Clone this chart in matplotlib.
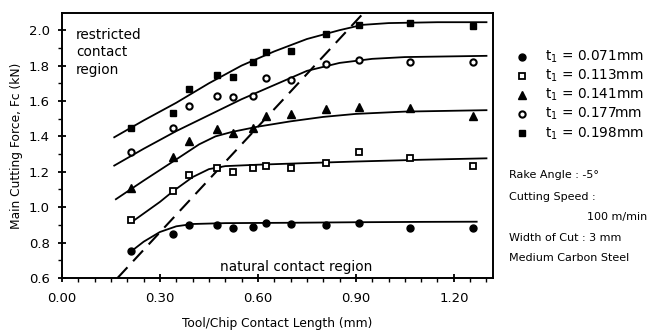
import matplotlib
matplotlib.use("Agg")
import matplotlib.pyplot as plt
from matplotlib.lines import Line2D
from matplotlib.ticker import MultipleLocator, FormatStrFormatter

plt.rcParams['font.family'] = ['DejaVu Sans']

# ---- data ----
contact_len = [0.21, 0.34, 0.39, 0.475, 0.525, 0.585, 0.625, 0.70, 0.81, 0.91, 1.065, 1.26]

labels = ["t$_1$ = 0.071mm", "t$_1$ = 0.113mm", "t$_1$ = 0.141mm",
          "t$_1$ = 0.177mm", "t$_1$ = 0.198mm"]

force_071 = [0.75, 0.85, 0.90, 0.90, 0.88, 0.89, 0.91, 0.905, 0.90, 0.91, 0.88, 0.88]
force_113 = [0.93, 1.09, 1.18, 1.22, 1.20, 1.22, 1.23, 1.22, 1.25, 1.31, 1.28, 1.23]
force_141 = [1.11, 1.285, 1.375, 1.44, 1.42, 1.445, 1.515, 1.525, 1.555, 1.565, 1.56, 1.515]
force_177 = [1.31, 1.445, 1.57, 1.63, 1.62, 1.63, 1.73, 1.72, 1.81, 1.83, 1.82, 1.82]
force_198 = [1.445, 1.53, 1.665, 1.745, 1.737, 1.82, 1.875, 1.884, 1.98, 2.03, 2.04, 2.025]

# fitted curves
fit_x_071 = [0.208, 0.25, 0.30, 0.35, 0.40, 0.50, 0.70, 0.90, 1.10, 1.27]
fit_y_071 = [0.745, 0.805, 0.86, 0.892, 0.905, 0.91, 0.912, 0.915, 0.917, 0.918]
fit_x_113 = [0.215, 0.30, 0.34, 0.40, 0.45, 0.50, 0.60, 0.73, 0.90, 1.10, 1.30]
fit_y_113 = [0.918, 1.03, 1.09, 1.17, 1.215, 1.232, 1.24, 1.248, 1.258, 1.268, 1.276]
fit_x_141 = [0.165, 0.25, 0.35, 0.42, 0.47, 0.52, 0.60, 0.70, 0.80, 0.90, 1.05, 1.30]
fit_y_141 = [1.045, 1.15, 1.27, 1.355, 1.40, 1.425, 1.455, 1.485, 1.51, 1.527, 1.54, 1.548]
fit_x_177 = [0.16, 0.25, 0.35, 0.45, 0.55, 0.65, 0.75, 0.85, 0.95, 1.05, 1.30]
fit_y_177 = [1.235, 1.33, 1.43, 1.52, 1.61, 1.69, 1.77, 1.815, 1.838, 1.848, 1.855]
fit_x_198 = [0.16, 0.25, 0.35, 0.45, 0.55, 0.65, 0.75, 0.85, 0.92, 1.00, 1.15, 1.30]
fit_y_198 = [1.395, 1.49, 1.59, 1.70, 1.80, 1.88, 1.95, 2.00, 2.03, 2.04, 2.045, 2.045]

# boundary between natural and restricted contact regions
boundary_x = [0.17, 0.93]
boundary_y = [0.60, 2.11]

x_ticks = [0.00, 0.30, 0.60, 0.90, 1.20]
y_ticks = [0.6, 0.8, 1.0, 1.2, 1.4, 1.6, 1.8, 2.0]

# ---- figure ----
W, H = 657, 336
fig = plt.figure(figsize=(W / 100, H / 100), dpi=100)
ax = fig.add_axes([62 / W, 1 - 278 / H, (493 - 62) / W, (278 - 13) / H])

styles = [
    dict(marker='o', color='black', markersize=5, markerfacecolor='black'),
    dict(marker='s', color='black', markersize=5, markerfacecolor='white', markeredgewidth=1.3),
    dict(marker='^', color='black', markersize=5.5, markerfacecolor='black'),
    dict(marker='o', color='black', markersize=4.5, markerfacecolor='white', markeredgewidth=1.5),
    dict(marker='s', color='black', markersize=5, markerfacecolor='black'),
]
series = [force_071, force_113, force_141, force_177, force_198]
fits = [(fit_x_071, fit_y_071), (fit_x_113, fit_y_113), (fit_x_141, fit_y_141),
        (fit_x_177, fit_y_177), (fit_x_198, fit_y_198)]

for (fx, fy) in fits:
    ax.plot(fx, fy, color='black', lw=1.3, zorder=2)
for ys, st in zip(series, styles):
    ax.plot(contact_len, ys, linestyle='none', zorder=3, **st)

ax.plot(boundary_x, boundary_y, color='black', lw=1.5, dashes=(7, 4), zorder=2)

ax.set_xlim(0.0, 1.32)
ax.set_ylim(0.6, 2.097)
ax.set_xticks(x_ticks)
ax.set_yticks(y_ticks)
ax.xaxis.set_major_formatter(FormatStrFormatter('%.2f'))
ax.yaxis.set_major_formatter(FormatStrFormatter('%.1f'))
ax.xaxis.set_minor_locator(MultipleLocator(0.05))
ax.yaxis.set_minor_locator(MultipleLocator(0.1))
ax.tick_params(which='major', direction='inout', length=6, width=1.3, labelsize=9.5, pad=6)
ax.tick_params(which='minor', direction='out', length=3, width=1.0)
ax.tick_params(axis='x', which='major', pad=7)
for s in ax.spines.values():
    s.set_linewidth(1.4)

ax.set_xlabel("Tool/Chip Contact Length (mm)", fontsize=8.8, labelpad=9)
ax.set_ylabel("Main Cutting Force, Fc (kN)", fontsize=8.8, labelpad=4)

ax.text(0.032, 0.945, "restricted\ncontact\nregion", transform=ax.transAxes,
        ha='left', va='top', fontsize=9.8, linespacing=1.35)
ax.text(0.543, 0.042, "natural contact region", transform=ax.transAxes,
        ha='center', va='center', fontsize=9.8)

# legend (manual)
leg_y = [56.7, 76, 95, 114, 133.3]
for ly, lab, st in zip(leg_y, labels, styles):
    fig.add_artist(Line2D([522 / W], [1 - ly / H], transform=fig.transFigure,
                          linestyle='none', **st))
    fig.text(545 / W, 1 - ly / H, lab, fontsize=9.8, ha='left', va='center')

# conditions
cond = [("Rake Angle : -5\u00b0", 175, 'left'), ("Cutting Speed :", 197, 'left'),
        ("100 m/min", 217, 'right'), ("Width of Cut : 3 mm", 238, 'left'),
        ("Medium Carbon Steel", 258, 'left')]
for txt, ty, ha in cond:
    xx = 509 / W if ha == 'left' else 647 / W
    fig.text(xx, 1 - ty / H, txt, fontsize=8, ha=ha, va='center')

fig.savefig("out.png", dpi=100)
